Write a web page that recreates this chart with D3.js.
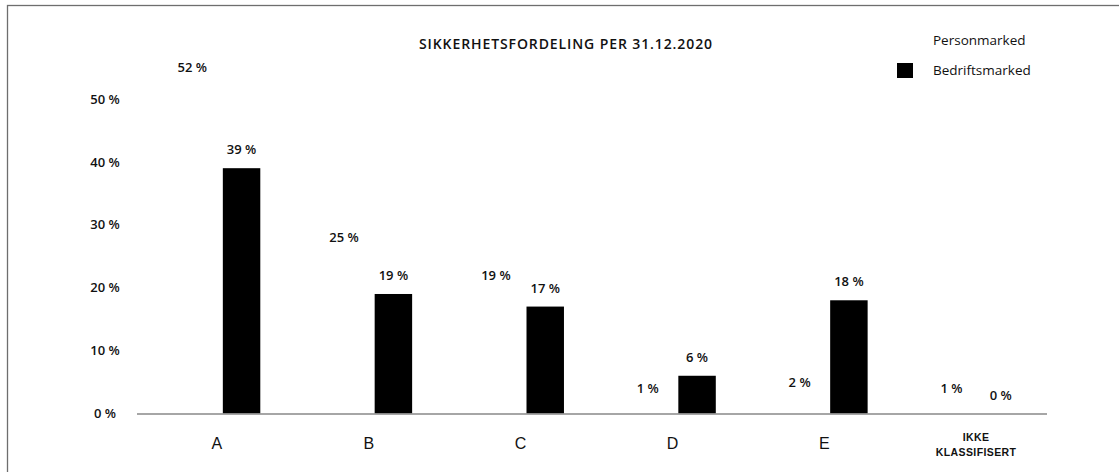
<!DOCTYPE html>
<html>
<head>
<meta charset="utf-8">
<script src="https://cdn.jsdelivr.net/npm/d3@7"></script>
<style>
  body { margin: 0; background: #fff; }
  svg { display: block; font-family: "Open Sans", sans-serif; }
</style>
</head>
<body>
<script>
// donnees
var categories = ["A", "B", "C", "D", "E", "IKKE KLASSIFISERT"];
var series = ["Personmarked", "Bedriftsmarked"];
var personmarked = [52, 25, 19, 1, 2, 1];
var bedriftsmarked = [39, 19, 17, 6, 18, 0];
var yTicks = [0, 10, 20, 30, 40, 50];
var title = "SIKKERHETSFORDELING PER 31.12.2020";

var width = 1119;
var height = 472;
var colors = { Personmarked: "#ffffff", Bedriftsmarked: "#000000" };

var data = categories.map(function (c, i) {
    return { cat: c, Personmarked: personmarked[i], Bedriftsmarked: bedriftsmarked[i] };
});

var svg = d3.select("body")
    .append("svg")
    .attr("width", width)
    .attr("height", height);

// cadre
svg.append("rect")
    .attr("x", 7.5)
    .attr("y", 5.5)
    .attr("width", width + 20)
    .attr("height", height + 20)
    .attr("fill", "none")
    .attr("stroke", "#6e6e6e")
    .attr("stroke-width", 1.3);

// echelles
var x0 = d3.scaleBand()
    .domain(categories)
    .range([141, 1052])
    .padding(0);

var x1 = d3.scaleBand()
    .domain(series)
    .range([0, x0.bandwidth()])
    .paddingInner(0.24)
    .paddingOuter(0.66);

var yscale = d3.scaleLinear()
    .domain([0, 50])
    .range([413.5, 99]);

// axe y (etiquettes seulement)
var y_axis = d3.axisLeft(yscale)
    .tickValues(yTicks)
    .tickSize(0)
    .tickFormat(function (d) { return d + " %"; });

var gy = svg.append("g")
    .attr("transform", "translate(105, 0)")
    .call(y_axis);
gy.select(".domain").remove();
gy.selectAll("text")
    .attr("x", 0)
    .attr("text-anchor", "middle")
    .style("font-family", "'Open Sans', sans-serif")
    .style("font-weight", "600")
    .style("font-size", "13px")
    .attr("fill", "#111");

// barres
var groups = svg.append("g")
    .selectAll("g")
    .data(data)
    .enter()
    .append("g")
    .attr("transform", function (d) { return "translate(" + x0(d.cat) + ",0)"; });

groups.selectAll("rect")
    .data(function (d) { return series.map(function (s) { return { key: s, value: d[s] }; }); })
    .enter()
    .append("rect")
    .attr("x", function (d) { return x1(d.key); })
    .attr("y", function (d) { return yscale(d.value); })
    .attr("width", x1.bandwidth())
    .attr("height", function (d) { return yscale(0) - yscale(d.value); })
    .attr("fill", function (d) { return colors[d.key]; });

groups.selectAll("text.val")
    .data(function (d) { return series.map(function (s) { return { key: s, value: d[s] }; }); })
    .enter()
    .append("text")
    .attr("class", "val")
    .attr("x", function (d) { return x1(d.key) + x1.bandwidth() / 2; })
    .attr("y", function (d) { return yscale(d.value) - 14; })
    .attr("text-anchor", "middle")
    .style("font-weight", "600")
    .style("font-size", "13px")
    .attr("fill", "#111")
    .text(function (d) { return d.value + " %"; });

// ligne de base
svg.append("line")
    .attr("x1", 137)
    .attr("x2", 1047)
    .attr("y1", yscale(0) + 0.5)
    .attr("y2", yscale(0) + 0.5)
    .attr("stroke", "#888")
    .attr("stroke-width", 1.5);

// axe x
var x_axis = d3.axisBottom(x0).tickSize(0).tickPadding(0);
var gx = svg.append("g")
    .attr("transform", "translate(0, 413.5)")
    .call(x_axis);
gx.select(".domain").remove();
gx.selectAll("text").remove();
gx.selectAll(".tick").each(function (d) {
    var t = d3.select(this);
    var words = d.split(" ");
    if (words.length === 1) {
        t.append("text")
            .attr("y", 35)
            .attr("text-anchor", "middle")
            .style("font-size", "16px")
            .attr("fill", "#111")
            .text(d);
    } else {
        words.forEach(function (w, i) {
            t.append("text")
                .attr("y", 27 + i * 15)
                .attr("text-anchor", "middle")
                .style("font-size", "10.5px")
                .style("font-weight", "600")
                .style("letter-spacing", "0.4px")
                .attr("fill", "#111")
                .text(w);
        });
    }
});

// titre
svg.append("text")
    .attr("x", 566)
    .attr("y", 49)
    .attr("text-anchor", "middle")
    .style("font-weight", "600")
    .style("font-size", "14px")
    .style("letter-spacing", "0.9px")
    .attr("fill", "#111")
    .text(title);

// legende
var legend = svg.append("g")
    .selectAll("g")
    .data(series)
    .enter()
    .append("g")
    .attr("transform", function (d, i) { return "translate(897," + (33 + i * 30) + ")"; });

legend.append("rect")
    .attr("y", 0)
    .attr("width", 16)
    .attr("height", 15)
    .attr("fill", function (d) { return colors[d]; });

legend.append("text")
    .attr("x", 36)
    .attr("y", 12)
    .style("font-size", "13.5px")
    .attr("fill", "#111")
    .text(function (d) { return d; });
</script>
</body>
</html>
